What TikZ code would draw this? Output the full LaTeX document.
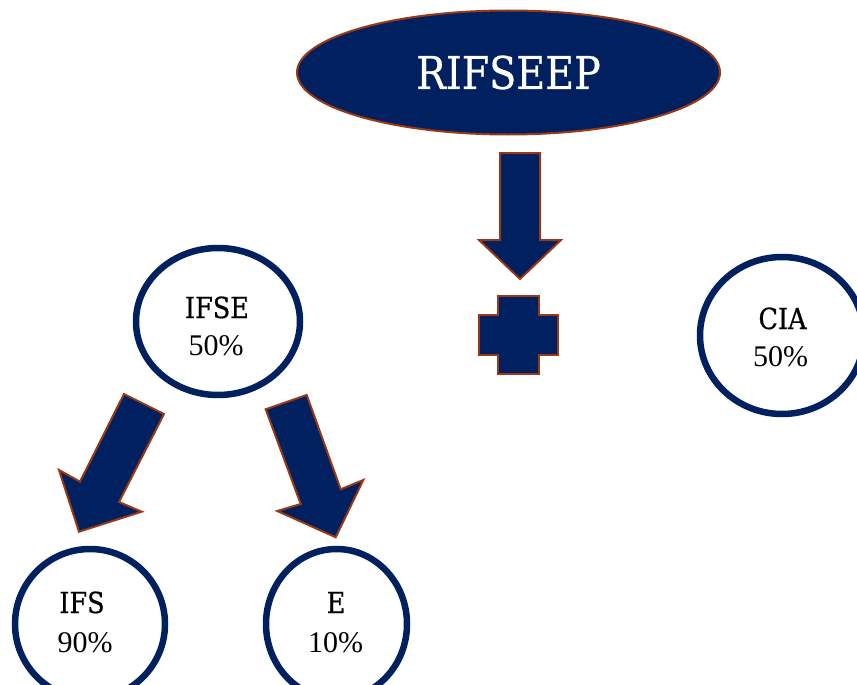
\documentclass[tikz,border=0pt]{standalone}
\usepackage{fontspec}
\usetikzlibrary{shapes.geometric}
\newfontfamily\slabfont[FakeStretch=0.88,FakeBold=0.6]{DejaVu Serif}
\newfontfamily\romfont{Liberation Serif}
\definecolor{navy}{RGB}{0,32,96}
\definecolor{rust}{RGB}{152,56,20}
\tikzset{
  blockshape/.style={fill=navy, draw=rust, line width=2pt, line join=miter},
  ring/.style={ellipse, draw=navy, line width=6.5pt, fill=white, inner sep=0pt},
  headtxt/.style={anchor=base, font=\slabfont\fontsize{29}{31}\selectfont, text=black, inner sep=0pt},
  pcttxt/.style={anchor=base, font=\romfont\fontsize{30}{32}\selectfont, text=black, inner sep=0pt}
}
\begin{document}
\begin{tikzpicture}[x=1pt,y=-1pt]
\useasboundingbox (0,0) rectangle (857,685);
% top ellipse
\node[ellipse, fill=navy, draw=rust, line width=2pt, minimum width=423pt, minimum height=124pt, inner sep=0pt,
      text=white, font=\slabfont\fontsize{45}{47}\selectfont] (rif) at (508.5,72.5) {RIFSEEP};
% down arrow
\draw[blockshape] (500,153) -- (540,153) -- (540,240) -- (561,240) -- (520,279) -- (479,240) -- (500,240) -- cycle;
% plus
\draw[blockshape] (498,296) -- (539,296) -- (539,315) -- (558,315) -- (558,355) -- (539,355) -- (539,374)
   -- (498,374) -- (498,355) -- (479,355) -- (479,315) -- (498,315) -- cycle;
% circles
\node[ring, minimum width=164pt, minimum height=147pt] (ifse) at (218,321.5) {};
\node[ring, minimum width=164pt, minimum height=157pt] (cia) at (782,335.5) {};
\node[ring, minimum width=150pt, minimum height=150pt] (ifs) at (90,624) {};
\node[ring, minimum width=141pt, minimum height=150pt] (e) at (336.5,624) {};
% texts
\node[headtxt] (t1) at (217,318) {IFSE};
\node[pcttxt] (p1) at (216,355) {50\%};
\node[headtxt] (t2) at (782.5,329) {CIA};
\node[pcttxt] (p2) at (780.5,366) {50\%};
\node[headtxt] (t3) at (82,613) {IFS};
\node[pcttxt] (p3) at (85,652) {90\%};
\node[headtxt] (t4) at (336,613) {E};
\node[pcttxt] (p4) at (335.5,652) {10\%};
% diagonal arrows
\draw[blockshape] (124,394) -- (164,414) -- (119,502) -- (141.7,511.7) -- (79,531.7) -- (59,470) -- (80,481.7) -- cycle;
\draw[blockshape] (265.7,409.3) -- (306.7,395) -- (340.7,489.3) -- (363.3,480) -- (335.7,537.3) -- (277.3,511) -- (300.7,504) -- cycle;
\end{tikzpicture}
\end{document}
